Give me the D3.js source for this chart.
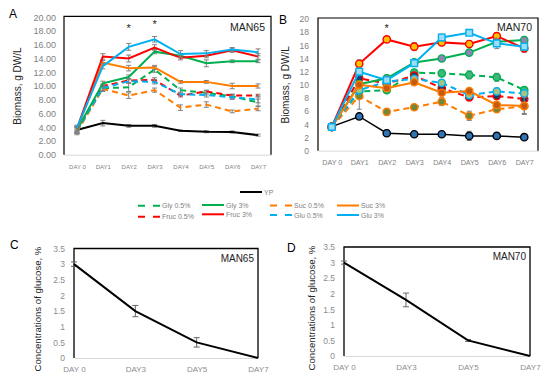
<!DOCTYPE html>
<html>
<head>
<meta charset="utf-8">
<script src="https://cdn.jsdelivr.net/npm/d3@7"></script>
<style>
  body { margin: 0; background: #fff; }
  svg { font-family: "Liberation Sans", Arial, sans-serif; }
</style>
</head>
<body>
<div id="chart"></div>
<script>
// data
var days = ["DAY 0", "DAY1", "DAY2", "DAY3", "DAY4", "DAY5", "DAY6", "DAY7"];
var glucoseDays = ["DAY 0", "DAY3", "DAY5", "DAY7"];
var seriesNames = ["YP", "Gly 0.5%", "Suc 0.5%", "Fruc 0.5%", "Glu 0.5%", "Gly 3%", "Suc 3%", "Fruc 3%", "Glu 3%"];

// panel A, MAN65
var aYP     = [3.6, 4.6, 4.2, 4.2, 3.5, 3.35, 3.3, 2.85];
var aGly05  = [3.5, 9.7, 9.8, 12.4, 9.4, 9.0, 8.5, 7.6];
var aSuc05  = [3.3, 9.6, 8.6, 9.4, 6.85, 7.3, 6.3, 6.7];
var aFruc05 = [3.6, 10.0, 10.8, 10.9, 8.6, 9.2, 8.6, 8.6];
var aGlu05  = [3.5, 9.7, 10.7, 10.6, 8.8, 8.7, 8.35, 8.05];
var aGly3   = [3.6, 10.4, 11.3, 15.0, 14.4, 13.3, 13.6, 13.6];
var aSuc3   = [3.7, 13.4, 12.6, 12.7, 10.6, 10.6, 10.0, 10.0];
var aFruc3  = [3.8, 14.3, 14.0, 15.6, 14.1, 14.4, 15.2, 14.3];
var aGlu3   = [3.9, 12.9, 15.7, 16.8, 14.65, 14.75, 15.3, 14.9];

var aYPErr     = [0.5, 0.4, 0.2, 0.2, 0.1, 0.15, 0.15, 0.15];
var aGly05Err  = [0.4, 0.4, 0.6, 0.4, 0.3, 0.3, 0.3, 0.5];
var aSuc05Err  = [0.4, 0.4, 0.4, 0.3, 0.4, 0.4, 0.2, 0.3];
var aFruc05Err = [0.4, 0.3, 0.3, 0.3, 0.2, 0.2, 0.2, 0.2];
var aGlu05Err  = [0.4, 0.3, 0.3, 0.3, 0.2, 0.3, 0.3, 0.5];
var aGly3Err   = [0.4, 0.3, 0.3, 0.3, 0.3, 0.5, 0.2, 0.2];
var aSuc3Err   = [0.4, 0.3, 0.4, 0.3, 0.2, 0.2, 0.4, 0.3];
var aFruc3Err  = [0.4, 0.4, 0.5, 0.4, 0.3, 0.3, 0.3, 0.4];
var aGlu3Err   = [0.4, 0.4, 0.5, 0.4, 0.5, 0.4, 0.3, 0.5];

// panel B, MAN70
var bYP     = [3.65, 5.2, 2.65, 2.5, 2.5, 2.25, 2.25, 2.05];
var bGly05  = [3.6, 9.0, 9.2, 11.85, 11.75, 11.5, 11.15, 9.2];
var bSuc05  = [3.6, 8.3, 5.9, 6.6, 7.45, 5.3, 6.3, 6.75];
var bFruc05 = [3.6, 11.0, 10.2, 11.4, 9.5, 8.1, 8.3, 7.85];
var bGlu05  = [3.6, 9.2, 10.5, 10.9, 10.3, 8.45, 9.0, 8.7];
var bGly3   = [3.6, 10.1, 11.0, 13.4, 14.0, 14.9, 16.55, 16.8];
var bSuc3   = [3.6, 10.0, 9.5, 10.4, 8.8, 9.05, 6.95, 6.8];
var bFruc3  = [3.6, 13.2, 16.9, 15.8, 16.45, 16.2, 17.4, 15.55];
var bGlu3   = [3.6, 12.0, 10.7, 13.3, 17.2, 17.9, 16.3, 15.8];

var bYPErr     = [0.4, 0.4, 0.5, 0.3, 0.3, 0.7, 0.3, 0.3];
var bGly05Err  = [0.4, 0.6, 0.4, 0.5, 0.5, 0.6, 0.6, 0.5];
var bSuc05Err  = [0.4, 2.0, 0.5, 0.3, 0.6, 0.7, 0.4, 1.1];
var bFruc05Err = [0.4, 0.5, 0.4, 0.4, 0.3, 0.4, 0.5, 0.4];
var bGlu05Err  = [0.4, 0.4, 0.4, 0.4, 0.4, 0.5, 0.5, 0.4];
var bGly3Err   = [0.4, 0.5, 0.5, 0.5, 0.4, 0.4, 0.5, 0.5];
var bSuc3Err   = [0.4, 0.5, 0.4, 0.3, 0.4, 0.4, 0.5, 1.3];
var bFruc3Err  = [0.4, 0.6, 0.4, 0.6, 0.5, 0.5, 0.5, 0.6];
var bGlu3Err   = [0.4, 0.6, 0.5, 0.5, 0.5, 0.3, 0.8, 0.5];

// panels C and D, glucose left in the medium
var cGlucose = [3.0, 1.5, 0.5, 0];
var cGlucoseErr = [0.07, 0.18, 0.15, 0];
var dGlucose = [3.0, 1.8, 0.5, 0];
var dGlucoseErr = [0.05, 0.22, 0.03, 0];

var aStars = [{ day: "DAY2", v: 17.9 }, { day: "DAY3", v: 18.4 }];
var bStars = [{ day: "DAY2", v: 18.0 }];

// styles
var style = {
  "YP":        { color: "#000000", dash: null, fill: "#2e75b6", stroke: "#000000" },
  "Gly 0.5%":  { color: "#00b050", dash: "6,4", fill: "#3cb878", stroke: "#00b050" },
  "Suc 0.5%":  { color: "#ff7c00", dash: "6,4", fill: "#70883a", stroke: "#ff7c00" },
  "Fruc 0.5%": { color: "#ff0000", dash: "6,4", fill: "#1f3864", stroke: "#ff0000" },
  "Glu 0.5%":  { color: "#00b0f0", dash: "6,4", fill: "#a9c47f", stroke: "#00b0f0" },
  "Gly 3%":    { color: "#00b050", dash: null, fill: "#8f84b8", stroke: "#00b050" },
  "Suc 3%":    { color: "#ff7c00", dash: null, fill: "#c55a11", stroke: "#ff7c00" },
  "Fruc 3%":   { color: "#ff0000", dash: null, fill: "#ffc000", stroke: "#ff0000" },
  "Glu 3%":    { color: "#00b0f0", dash: null, fill: "#9fdcf5", stroke: "#00b0f0" }
};

var svg = d3.select("#chart").append("svg")
  .attr("width", 550)
  .attr("height", 383);

function drawBiomass(p) {
  var x = d3.scalePoint().domain(days).range([p.left, p.right]).padding(0.5);
  var y = d3.scaleLinear().domain([0, 20]).range([p.bottom, p.top]);
  var g = svg.append("g");

  // y axis, no line, ticks only
  var yAxis = d3.axisLeft(y).tickValues(d3.range(0, 21, 2)).tickSize(0).tickPadding(p.yPad)
    .tickFormat(p.yFormat);
  var ya = g.append("g").attr("transform", `translate(${p.left},0)`).call(yAxis);
  ya.select(".domain").remove();
  ya.selectAll("text").attr("fill", "#7f7f7f").style("font-size", p.yFont + "px");

  var xAxis = d3.axisBottom(x).tickSize(0).tickPadding(p.xPad);
  var xa = g.append("g").attr("transform", `translate(0,${p.bottom})`).call(xAxis);
  xa.select(".domain").attr("stroke", "#d9d9d9");
  xa.selectAll("text").attr("fill", "#7f7f7f").style("font-size", p.xFont + "px");

  // frame
  g.append("path")
    .attr("d", `M${p.left},${p.bottom}V${p.top - 1}H${p.right}V${p.bottom}`)
    .attr("fill", "none").attr("stroke", "#000").attr("stroke-width", 1.2);

  var line = d3.line().x((d, i) => x(days[i])).y(d => y(d));

  p.series.forEach(function(s) {
    var st = style[s.name];
    var eb = g.append("g").attr("stroke", "#808080").attr("stroke-width", 1);
    s.values.forEach(function(v, i) {
      var cx = x(days[i]), e = s.err[i];
      eb.append("line").attr("x1", cx).attr("x2", cx).attr("y1", y(v - e)).attr("y2", y(v + e));
      eb.append("line").attr("x1", cx - 2.5).attr("x2", cx + 2.5).attr("y1", y(v - e)).attr("y2", y(v - e));
      eb.append("line").attr("x1", cx - 2.5).attr("x2", cx + 2.5).attr("y1", y(v + e)).attr("y2", y(v + e));
    });
    g.append("path").datum(s.values)
      .attr("d", line)
      .attr("fill", "none")
      .attr("stroke", st.color)
      .attr("stroke-width", s.name == "YP" && p.markers ? 1.5 : 2)
      .attr("stroke-dasharray", st.dash);
    if (p.markers) {
      var sym = d3.symbol().type(s.name == "Glu 3%" ? d3.symbolSquare : d3.symbolCircle)
        .size(s.name == "Glu 3%" ? 44 : 42);
      g.append("g").selectAll("path")
        .data(s.values)
        .enter()
        .append("path")
        .attr("d", sym)
        .attr("transform", (d, i) => `translate(${x(days[i])},${y(d)})`)
        .attr("fill", st.fill)
        .attr("stroke", st.stroke)
        .attr("stroke-width", 1.4);
    }
  });

  g.selectAll(".star").data(p.stars).enter().append("text")
    .attr("x", d => x(d.day)).attr("y", d => y(d.v))
    .attr("text-anchor", "middle").style("font-size", "11px").attr("fill", "#222")
    .text("*");

  g.append("text").attr("x", p.right - 6).attr("y", p.top + p.titleDy)
    .attr("text-anchor", "end").style("font-size", "10.5px").attr("fill", "#222")
    .text(p.title);

  g.append("text")
    .attr("transform", `translate(${p.labelX},${(p.top + p.bottom) / 2}) rotate(-90)`)
    .attr("text-anchor", "middle").style("font-size", "10px").attr("fill", "#262626")
    .text("Biomass, g DW/L");

  g.append("text").attr("x", p.letterX).attr("y", p.letterY)
    .style("font-size", "12px").attr("fill", "#000").text(p.letter);
}

function drawGlucose(p) {
  var x = d3.scalePoint().domain(glucoseDays).range([p.left, p.right]);
  var y = d3.scaleLinear().domain([0, 3.5]).range([p.bottom, p.top]);
  var g = svg.append("g");

  var yAxis = d3.axisLeft(y).tickValues(d3.range(0, 3.51, 0.5)).tickSize(0).tickPadding(9)
    .tickFormat(d3.format("~g"));
  var ya = g.append("g").attr("transform", `translate(${p.left},0)`).call(yAxis);
  ya.select(".domain").remove();
  ya.selectAll("text").attr("fill", "#8c8c8c").style("font-size", "8.5px");

  var xa = g.append("g").attr("transform", `translate(0,${p.bottom})`)
    .call(d3.axisBottom(x).tickSize(0).tickPadding(8));
  xa.select(".domain").attr("stroke", "#d9d9d9");
  xa.selectAll("text").attr("fill", "#8c8c8c").style("font-size", "8px");

  g.append("path")
    .attr("d", `M${p.left},${p.bottom}V${p.top}H${p.right}V${p.bottom}`)
    .attr("fill", "none").attr("stroke", "#000").attr("stroke-width", 1.3);

  var eb = g.append("g").attr("stroke", "#666").attr("stroke-width", 1);
  p.values.forEach(function(v, i) {
    var cx = x(glucoseDays[i]), e = p.err[i];
    if (e == 0) return;
    eb.append("line").attr("x1", cx).attr("x2", cx).attr("y1", y(v - e)).attr("y2", y(v + e));
    eb.append("line").attr("x1", cx - 3).attr("x2", cx + 3).attr("y1", y(v - e)).attr("y2", y(v - e));
    eb.append("line").attr("x1", cx - 3).attr("x2", cx + 3).attr("y1", y(v + e)).attr("y2", y(v + e));
  });

  g.append("path").datum(p.values)
    .attr("d", d3.line().x((d, i) => x(glucoseDays[i])).y(d => y(d)))
    .attr("fill", "none").attr("stroke", "#000").attr("stroke-width", 2);

  g.append("text").attr("x", p.right - 4).attr("y", p.top + 13)
    .attr("text-anchor", "end").style("font-size", "10px").attr("fill", "#222")
    .text(p.title);

  g.append("text")
    .attr("transform", `translate(${p.labelX},${p.labelY}) rotate(-90)`)
    .attr("text-anchor", "middle").style("font-size", "9.6px").attr("fill", "#262626")
    .text("Concentrations of glucose, %");

  g.append("text").attr("x", p.letterX).attr("y", p.letterY)
    .style("font-size", "12px").attr("fill", "#000").text(p.letter);
}

function makeSeries(vals, errs) {
  return seriesNames.map((n, i) => ({ name: n, values: vals[i], err: errs[i] }));
}

drawBiomass({
  left: 64, right: 271, top: 17.3, bottom: 154.7,
  yFormat: d3.format(".2f"), yFont: 9, yPad: 8, xFont: 6, xPad: 10,
  markers: false, title: "MAN65", titleDy: 14, letter: "A", letterX: 9, letterY: 18,
  labelX: 21, stars: aStars,
  series: makeSeries(
    [aYP, aGly05, aSuc05, aFruc05, aGlu05, aGly3, aSuc3, aFruc3, aGlu3],
    [aYPErr, aGly05Err, aSuc05Err, aFruc05Err, aGlu05Err, aGly3Err, aSuc3Err, aFruc3Err, aGlu3Err])
});

drawBiomass({
  left: 318, right: 538, top: 19, bottom: 150.7,
  yFormat: d3.format("d"), yFont: 8.5, yPad: 9, xFont: 7.2, xPad: 9,
  markers: true, title: "MAN70", titleDy: 11.5, letter: "B", letterX: 279, letterY: 24,
  labelX: 289, stars: bStars,
  series: makeSeries(
    [bYP, bGly05, bSuc05, bFruc05, bGlu05, bGly3, bSuc3, bFruc3, bGlu3],
    [bYPErr, bGly05Err, bSuc05Err, bFruc05Err, bGlu05Err, bGly3Err, bSuc3Err, bFruc3Err, bGlu3Err])
});

drawGlucose({
  left: 74, right: 258, top: 248.5, bottom: 358,
  values: cGlucose, err: cGlucoseErr, title: "MAN65",
  letter: "C", letterX: 10, letterY: 249, labelX: 41, labelY: 309
});

drawGlucose({
  left: 344, right: 530, top: 247, bottom: 356,
  values: dGlucose, err: dGlucoseErr, title: "MAN70",
  letter: "D", letterX: 287, letterY: 252, labelX: 315, labelY: 308
});

// legend
var legendItems = [
  { name: "YP", x: 240, y: 192 },
  { name: "Gly 0.5%", x: 138, y: 205.7 },
  { name: "Gly 3%", x: 202, y: 205 },
  { name: "Suc 0.5%", x: 270, y: 205.5 },
  { name: "Suc 3%", x: 337, y: 205.5 },
  { name: "Fruc 0.5%", x: 138, y: 216.7 },
  { name: "Fruc 3%", x: 202, y: 214.3 },
  { name: "Glu 0.5%", x: 270, y: 215 },
  { name: "Glu 3%", x: 337, y: 215 }
];

var legend = svg.append("g");
legendItems.forEach(function(d) {
  var st = style[d.name];
  legend.append("line")
    .attr("x1", d.x).attr("x2", d.x + 22).attr("y1", d.y).attr("y2", d.y)
    .attr("stroke", st.color).attr("stroke-width", 2)
    .attr("stroke-dasharray", st.dash ? "7,8" : null);
  legend.append("text")
    .attr("x", d.x + 24).attr("y", d.y + 2.5)
    .style("font-size", "7px").attr("fill", "#7f7f7f")
    .text(d.name);
});
</script>
</body>
</html>
